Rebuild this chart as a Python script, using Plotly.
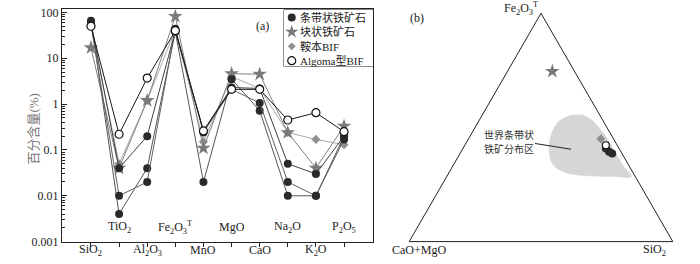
import plotly.graph_objects as go

# ---------------- data ----------------
categories = ["SiO2", "TiO2", "Al2O3", "Fe2O3T", "MnO", "MgO", "CaO", "Na2O", "K2O", "P2O5"]
cat_labels = ["SiO<sub>2</sub>", "TiO<sub>2</sub>", "Al<sub>2</sub>O<sub>3</sub>",
              "Fe<sub>2</sub>O<sub>3</sub><sup>T</sup>", "MnO", "MgO", "CaO",
              "Na<sub>2</sub>O", "K<sub>2</sub>O", "P<sub>2</sub>O<sub>5</sub>"]

banded_1 = [60, 0.04, 0.2, 40, 0.26, 2.3, 2.2, 0.05, 0.03, 0.2]
banded_2 = [55, 0.01, 0.02, 44, 0.24, 2.1, 1.06, 0.02, 0.01, 0.17]
banded_3 = [66, 0.004, 0.04, 38, 0.02, 3.5, 0.72, 0.01, 0.01, 0.2]
massive = [17, 0.04, 1.2, 82, 0.11, 4.6, 4.5, 0.24, 0.04, 0.33]
anben_bif = [52, 0.05, 1.2, 42, 0.15, 4.0, 2.2, 0.24, 0.17, 0.13]
algoma_bif = [50, 0.22, 3.7, 40, 0.26, 2.1, 2.1, 0.45, 0.65, 0.25]

y_tickvals = [0.001, 0.01, 0.1, 1, 10, 100]
y_ticktext = ["0.001", "0.01", "0.1", "1", "10", "100"]

legend_names = ["条带状铁矿石", "块状铁矿石", "鞍本BIF", "Algoma型BIF"]
field_label_lines = ["世界条带状", "铁矿分布区"]

# ternary (a = Fe2O3T, b = CaO+MgO, c = SiO2), percent
tern_banded_a = [40.8, 39.4, 38.6]
tern_banded_b = [5.0, 4.5, 3.7]
tern_banded_c = [54.2, 56.1, 57.7]
tern_massive_a = [74.6]
tern_massive_b = [8.4]
tern_massive_c = [17.0]
tern_anben_a = [45.0]
tern_anben_b = [4.8]
tern_anben_c = [50.2]
tern_algoma_a = [42.2]
tern_algoma_b = [4.3]
tern_algoma_c = [53.5]

# world BIF field outline
field_a = [55.6, 52.8, 47.1, 40.1, 33.7, 30.2, 28.8, 28.5, 28.5, 33.0, 40.1, 47.1, 53.5, 55.6]
field_b = [10.4, 16.7, 22.5, 26.9, 28.6, 25.5, 17.7, 8.1, 1.5, 2.2, 2.3, 2.5, 4.2, 6.8]
field_c = [34.0, 30.5, 30.4, 33.0, 37.7, 44.3, 53.5, 63.4, 70.0, 64.8, 57.6, 50.4, 42.3, 37.6]

# ---------------- styles ----------------
SERIF = "Liberation Serif, Noto Sans CJK SC, serif"
TXT = "#222222"
sty_banded = dict(symbol="circle", size=8, color="#2a2a2a")
sty_massive = dict(symbol="star", size=11, color="#7a7a7a")
sty_anben = dict(symbol="diamond", size=7, color="#909090")
sty_algoma = dict(symbol="circle", size=8, color="white", line=dict(color="#111111", width=1.2))

fig = go.Figure()

def add_series(vals, marker, lcolor):
    fig.add_trace(go.Scatter(x=categories, y=vals, mode="lines+markers",
                             line=dict(color=lcolor, width=1), marker=marker,
                             showlegend=False, xaxis="x", yaxis="y"))

add_series(anben_bif, sty_anben, "#aaaaaa")
add_series(massive, sty_massive, "#808080")
add_series(banded_3, sty_banded, "#555555")
add_series(banded_2, sty_banded, "#606060")
add_series(banded_1, sty_banded, "#404040")
add_series(algoma_bif, sty_algoma, "#1a1a1a")

# ---------------- legend (custom box) ----------------
leg_y = [0.864, 0.61, 0.356, 0.102]
leg_styles = [sty_banded, dict(sty_massive, size=10), dict(sty_anben, size=6), sty_algoma]
for name, yy, st in zip(legend_names, leg_y, leg_styles):
    fig.add_trace(go.Scatter(x=[0.087], y=[yy], mode="markers", marker=st,
                             showlegend=False, xaxis="x2", yaxis="y2", hoverinfo="skip"))
    fig.add_annotation(x=298 / 700, y=(264 - (66 - yy * 59)) / 264, xref="paper", yref="paper",
                       text=name, showarrow=False, xanchor="left", yanchor="middle",
                       font=dict(family=SERIF, size=11, color=TXT))

fig.add_shape(type="rect", xref="paper", yref="paper",
              x0=284 / 700, x1=373 / 700, y0=(264 - 66) / 264, y1=(264 - 7) / 264,
              line=dict(color="#222222", width=1), fillcolor="white", layer="below")

# ---------------- category labels ----------------
for i, (cat, lab) in enumerate(zip(categories, cat_labels)):
    ypx = 257 if i % 2 == 0 else 233
    fig.add_annotation(x=cat, y=(264 - ypx) / 264, xref="x", yref="paper", text=lab,
                       showarrow=False, yanchor="middle",
                       font=dict(family=SERIF, size=12, color=TXT))

fig.add_annotation(x=262 / 700, y=(264 - 15) / 264, xref="paper", yref="paper", text="(a)",
                   showarrow=False, font=dict(family=SERIF, size=12, color=TXT))
fig.add_annotation(x=24 / 700, y=(264 - 131) / 264, xref="paper", yref="paper",
                   text="百分含量(%)", textangle=-90, showarrow=False,
                   font=dict(family=SERIF, size=13, color="#777777"))

# ---------------- ternary ----------------
fig.add_trace(go.Scatterternary(a=field_a, b=field_b, c=field_c, mode="lines", fill="toself",
                                fillcolor="#d6d6d6", line=dict(color="#d6d6d6", width=0.5,
                                shape="spline", smoothing=1.0),
                                showlegend=False, hoverinfo="skip"))
fig.add_trace(go.Scatterternary(a=tern_anben_a, b=tern_anben_b, c=tern_anben_c, mode="markers",
                                marker=sty_anben, showlegend=False))
fig.add_trace(go.Scatterternary(a=tern_massive_a, b=tern_massive_b, c=tern_massive_c, mode="markers",
                                marker=sty_massive, showlegend=False))
fig.add_trace(go.Scatterternary(a=tern_banded_a, b=tern_banded_b, c=tern_banded_c, mode="markers",
                                marker=sty_banded, showlegend=False))
fig.add_trace(go.Scatterternary(a=tern_algoma_a, b=tern_algoma_b, c=tern_algoma_c, mode="markers",
                                marker=dict(sty_algoma, size=7), showlegend=False))

tern_axis = dict(showticklabels=False, ticks="", showgrid=False, linecolor="#222222",
                 linewidth=1, title=dict(text=""))

fig.add_annotation(x=540 / 700, y=(264 - 6) / 264, xref="paper", yref="paper",
                   text="Fe<sub>2</sub>O<sub>3</sub><sup>T</sup>", showarrow=False,
                   yanchor="middle", font=dict(family=SERIF, size=12, color=TXT))
fig.add_annotation(x=419 / 700, y=(264 - 257) / 264, xref="paper", yref="paper",
                   text="CaO+MgO", showarrow=False, yanchor="middle",
                   font=dict(family=SERIF, size=12, color=TXT))
fig.add_annotation(x=668 / 700, y=(264 - 257) / 264, xref="paper", yref="paper",
                   text="SiO<sub>2</sub>", showarrow=False, yanchor="middle",
                   font=dict(family=SERIF, size=12, color=TXT))
fig.add_annotation(x=417 / 700, y=(264 - 16) / 264, xref="paper", yref="paper",
                   text="(b)", showarrow=False, yanchor="middle",
                   font=dict(family=SERIF, size=12, color=TXT))
for line_text, ypx in zip(field_label_lines, [137, 151]):
    fig.add_annotation(x=482 / 700, y=(264 - ypx) / 264, xref="paper", yref="paper",
                       text=line_text, showarrow=False, xanchor="left", yanchor="middle",
                       font=dict(family="Noto Sans CJK SC", size=10, color="#333333"))
fig.add_shape(type="line", xref="paper", yref="paper",
              x0=535 / 700, y0=(264 - 146) / 264, x1=571 / 700, y1=(264 - 152) / 264,
              line=dict(color="#222222", width=1))

minor_vals = [k * 10.0 ** e for e in range(-3, 2) for k in range(2, 10)]

fig.update_layout(
    width=700, height=264,
    margin=dict(l=0, r=0, t=0, b=0),
    paper_bgcolor="white", plot_bgcolor="white",
    showlegend=False,
    xaxis=dict(domain=[62 / 700, 373 / 700], type="category", categoryarray=categories,
               categoryorder="array", range=[-1.03, 10.03], showticklabels=False,
               ticks="outside", ticklen=4, tickcolor="#222222", showgrid=False,
               showline=True, mirror=True, linecolor="#222222", linewidth=1, zeroline=False),
    yaxis=dict(domain=[16 / 264, 257.5 / 264], type="log", range=[-3, 2.07],
               tickmode="array", tickvals=y_tickvals, ticktext=y_ticktext,
               ticks="inside", ticklen=5, tickcolor="#222222",
               minor=dict(tickmode="array", tickvals=minor_vals, ticks="inside", ticklen=3,
                          tickcolor="#222222", showgrid=False),
               showgrid=False, showline=True, mirror=True, linecolor="#222222", linewidth=1,
               zeroline=False, tickfont=dict(family=SERIF, size=12, color=TXT)),
    xaxis2=dict(domain=[284 / 700, 373 / 700], range=[0, 1], visible=False, anchor="y2"),
    yaxis2=dict(domain=[(264 - 66) / 264, (264 - 7) / 264], range=[0, 1], visible=False, anchor="x2"),
    ternary=dict(domain=dict(x=[404 / 700, 678 / 700], y=[16 / 264, 253.3 / 264]),
                 sum=100, bgcolor="white",
                 aaxis=tern_axis, baxis=tern_axis, caxis=tern_axis),
)

fig.write_html("out.html", config={"displayModeBar": False},
               post_script="document.body.style.margin='0';document.body.style.overflow='hidden';")
